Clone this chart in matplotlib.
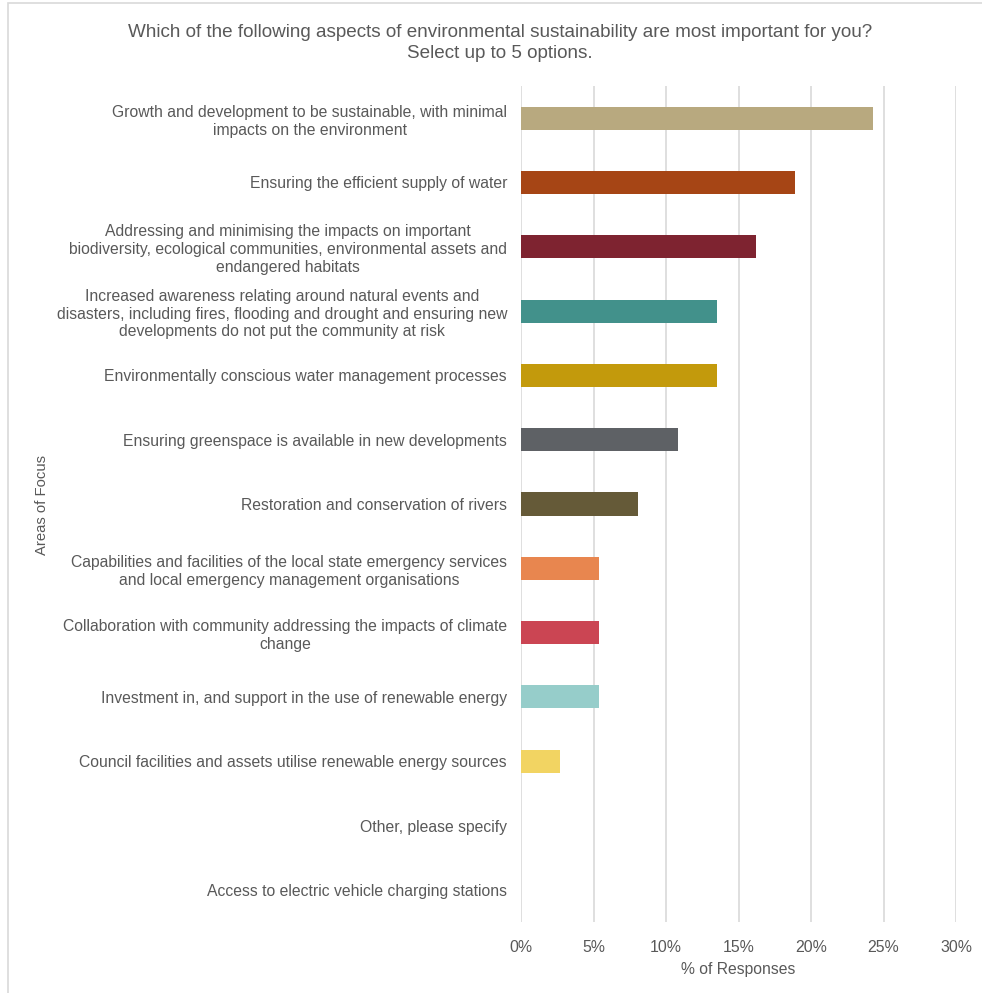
import matplotlib
matplotlib.use('Agg')
import matplotlib.pyplot as plt
from matplotlib.patches import Rectangle
from matplotlib.ticker import FuncFormatter

plt.rcParams['font.family'] = ['Liberation Sans', 'DejaVu Sans']

# survey answers, top to bottom
areas = [
    'Growth and development to be sustainable, with minimal\nimpacts on the environment',
    'Ensuring the efficient supply of water',
    'Addressing and minimising the impacts on important\nbiodiversity, ecological communities, environmental assets and\nendangered habitats',
    'Increased awareness relating around natural events and\ndisasters, including fires, flooding and drought and ensuring new\ndevelopments do not put the community at risk',
    'Environmentally conscious water management processes',
    'Ensuring greenspace is available in new developments',
    'Restoration and conservation of rivers',
    'Capabilities and facilities of the local state emergency services\nand local emergency management organisations',
    'Collaboration with community addressing the impacts of climate\nchange',
    'Investment in, and support in the use of renewable energy',
    'Council facilities and assets utilise renewable energy sources',
    'Other, please specify',
    'Access to electric vehicle charging stations',
]
pct = [24.3, 18.9, 16.2, 13.5, 13.5, 10.8, 8.1, 5.4, 5.4, 5.4, 2.7, 0.0, 0.0]
colours = ['#B8A97F', '#A64515', '#7E2330', '#42918B', '#C39A0C', '#5E6165',
           '#655A38', '#E8864F', '#CB4553', '#96CDCA', '#F2D462', '#B8A97F', '#A64515']
ticks = [0, 5, 10, 15, 20, 25, 30]

W, H = 982, 993
grey = '#595959'

fig = plt.figure(figsize=(W / 100, H / 100), dpi=100)
fig.patches.append(Rectangle((8 / W, -0.01), 1.0, 1 - 3 / H + 0.01,
                             transform=fig.transFigure, fill=False,
                             edgecolor='#D9D9D9', linewidth=1.2))

ax = fig.add_axes([521 / W, 1 - 922 / H, 435 / W, 836 / H])
y = list(range(len(areas)))
ax.barh(y, pct, height=0.36, color=colours, zorder=3)
ax.set_ylim(len(areas) - 0.5, -0.5)
ax.set_xlim(0, 30)
ax.set_xticks(ticks)
ax.xaxis.set_major_formatter(FuncFormatter(lambda v, p: '%d%%' % v))
ax.set_yticks(y)
ax.set_yticklabels(areas, fontsize=11.3, color=grey, linespacing=1.24,
                   multialignment='center')
ax.tick_params(axis='both', length=0, colors=grey)
ax.tick_params(axis='y', pad=10)
ax.tick_params(axis='x', pad=13, labelsize=11.4)
ax.grid(axis='x', color='#D9D9D9', linewidth=1.2, zorder=0)
for s in ax.spines.values():
    s.set_visible(False)

ax.set_xlabel('% of Responses', fontsize=11.3, color=grey, labelpad=5)
fig.text(42 / W, 1 - 505 / H, 'Areas of Focus', rotation=90, fontsize=10.7,
         color=grey, ha='center', va='center')
fig.text(500 / W, 1 - 43 / H,
         'Which of the following aspects of environmental sustainability are most important for you?\nSelect up to 5 options.',
         ha='center', va='center', fontsize=13.6, color=grey, linespacing=1.3)

fig.savefig('out.png', dpi=100, facecolor='white')
